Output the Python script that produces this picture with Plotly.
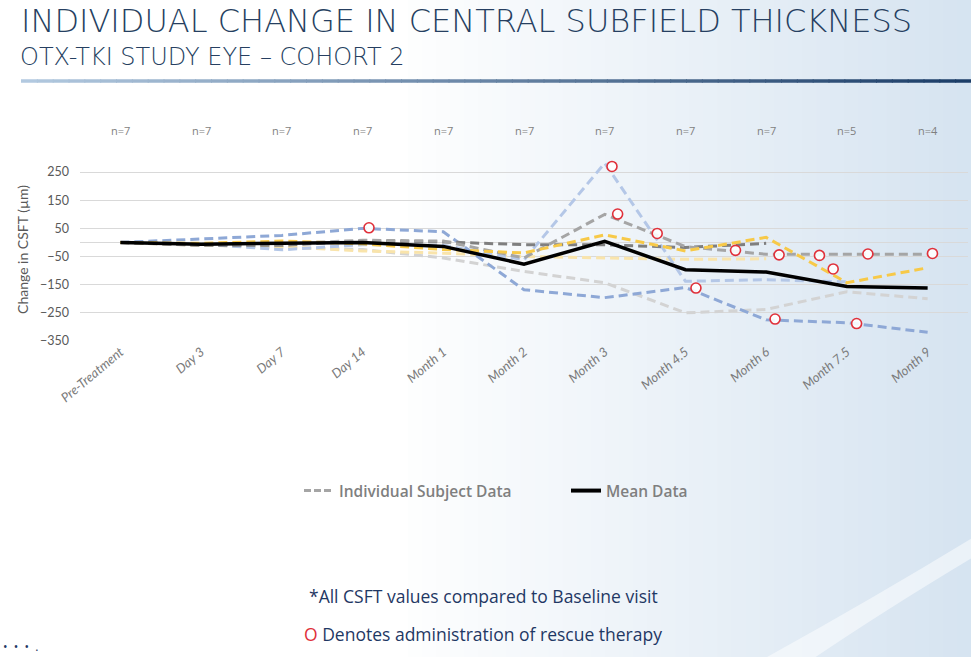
import plotly.graph_objects as go

# ---------------- data ----------------
categories = ["Pre-Treatment", "Day 3", "Day 7", "Day 14", "Month 1", "Month 2",
              "Month 3", "Month 4.5", "Month 6", "Month 7.5", "Month 9"]
n_labels = ["n=7", "n=7", "n=7", "n=7", "n=7", "n=7", "n=7", "n=7", "n=7", "n=5", "n=4"]

subj_medium_blue = [0, 12, 25, 50, 38, -168, -196, -160, -275, -285, -319]
subj_pale_blue = [0, -5, -26, -8, -10, -62, 282, -138, -132, -140, None]
subj_grey_a = [0, -8, -5, 8, 5, -55, 100, -15, -42, -42, -42]
subj_grey_b = [0, -10, -10, 5, 2, -8, -8, -18, -3, None, None]
subj_yellow = [0, -3, 5, -5, -25, -37, 27, -30, 18, -143, -90]
subj_pale_yellow = [0, -10, -15, -30, -38, -50, -55, -60, -58, None, None]
subj_light_grey = [0, -10, -18, -25, -55, -103, -143, -250, -238, -175, -200]
mean_data = [0, -6, -3, 0, -14, -77, 4, -97, -105, -156, -162]

rescue_x = [3.08, 6.09, 6.16, 6.65, 7.13, 7.62, 8.11, 8.16, 8.66, 8.83, 9.12, 9.26, 10.06]
rescue_y = [52, 270, 101, 32, -162, -28, -272, -44, -46, -94, -288, -41, -39]

y_ticks = [-350, -250, -150, -50, 50, 150, 250]

# ---------------- figure ----------------
W, H = 971, 657
fig = go.Figure()
xs = list(range(len(categories)))

subjects = [
    (subj_light_grey, "#d3d3d3"),
    (subj_pale_yellow, "#f9e4ab"),
    (subj_pale_blue, "#b4c7e7"),
    (subj_medium_blue, "#8ea8d6"),
    (subj_grey_b, "#7f7f7f"),
    (subj_grey_a, "#a5a5a5"),
    (subj_yellow, "#f7c948"),
]
for vals, col in subjects:
    fig.add_trace(go.Scatter(x=xs, y=vals, mode="lines", showlegend=False,
                             line=dict(color=col, width=3, dash="9px,5px"),
                             hoverinfo="skip"))

fig.add_trace(go.Scatter(x=xs, y=mean_data, mode="lines", showlegend=False,
                         line=dict(color="#000000", width=3.5)))

fig.add_trace(go.Scatter(x=rescue_x, y=rescue_y, mode="markers", showlegend=False,
                         marker=dict(symbol="circle", size=10, color="rgba(255,255,255,0.9)",
                                     line=dict(color="#e0303a", width=1.6))))

# legend entries
fig.add_trace(go.Scatter(x=[None], y=[None], mode="lines", name="Individual Subject Data",
                         legend="legend",
                         line=dict(color="#a5a5a5", width=3, dash="7px,3px")))
fig.add_trace(go.Scatter(x=[None], y=[None], mode="lines", name="Mean Data",
                         legend="legend2",
                         line=dict(color="#000000", width=4)))

# geometry of plot area in pixels
px_l, px_r, px_t, px_b = 80, 968, 158, 341
dom_x = [px_l / W, px_r / W]
dom_y = [(H - px_b) / H, (H - px_t) / H]

def py(p):
    return (H - p) / H

def pxf(p):
    return p / W

shapes = []
# background gradient (right side light blue)
n_strips = 40
x0s = 0.42
for i in range(n_strips):
    f = (i + 1) / n_strips
    r = int(255 - (255 - 214) * f)
    g = int(255 - (255 - 228) * f)
    b = int(255 - (255 - 241) * f)
    shapes.append(dict(type="rect", xref="paper", yref="paper",
                       x0=x0s + (1 - x0s) * i / n_strips, x1=x0s + (1 - x0s) * (i + 1) / n_strips + 0.002,
                       y0=0, y1=1, fillcolor=f"rgb({r},{g},{b})", line=dict(width=0), layer="below"))
# white swoosh bottom right
shapes.append(dict(type="path", xref="paper", yref="paper",
                   path="M 0.79,0 Q 0.90,0.09 1.0,0.18 L 1.0,0.15 Q 0.91,0.07 0.84,0 Z",
                   fillcolor="rgba(255,255,255,0.5)", line=dict(width=0), layer="below"))
# gradient rule under title
n_seg = 60
xa, xb = 21, 971
for i in range(n_seg):
    f = i / (n_seg - 1)
    r = int(178 + (28 - 178) * f)
    g = int(201 + (62 - 201) * f)
    b = int(224 + (104 - 224) * f)
    shapes.append(dict(type="line", xref="paper", yref="paper",
                       x0=pxf(xa + (xb - xa) * i / n_seg), x1=pxf(xa + (xb - xa) * (i + 1) / n_seg + 1),
                       y0=py(81), y1=py(81), line=dict(color=f"rgb({r},{g},{b})", width=3.5)))

title_font = "DejaVu Sans"
annotations = [
    dict(text="INDIVIDUAL CHANGE IN CENTRAL SUBFIELD THICKNESS",
         x=pxf(19), y=1.0,
         xref="paper", yref="paper", xanchor="left", yanchor="top", showarrow=False,
         font=dict(family=title_font, size=32, color="#263f61", weight=300)),
    dict(text="OTX-TKI STUDY EYE – COHORT 2", x=pxf(18), y=py(57),
         xref="paper", yref="paper", xanchor="left", yanchor="middle", showarrow=False,
         font=dict(family=title_font, size=24, color="#263f61", weight=300)),
    dict(text="*All CSFT values compared to Baseline visit", x=pxf(483), y=py(596),
         xref="paper", yref="paper", xanchor="center", yanchor="middle", showarrow=False,
         font=dict(family="Open Sans, sans-serif", size=17.5, color="#1f3864")),
    dict(text="<span style='color:#e0303a'>O</span> Denotes administration of rescue therapy",
         x=pxf(483), y=py(634),
         xref="paper", yref="paper", xanchor="center", yanchor="middle", showarrow=False,
         font=dict(family="Open Sans, sans-serif", size=17.5, color="#1f3864")),
    dict(text="•  •  •  .", x=pxf(1), y=py(646), xref="paper", yref="paper", xanchor="left",
         yanchor="middle", showarrow=False, font=dict(size=12, color="#1f3864")),
]
for i, lab in enumerate(n_labels):
    annotations.append(dict(text=lab, x=i, xref="x", y=py(130), yref="paper", showarrow=False,
                            xanchor="center", yanchor="middle",
                            font=dict(family="Open Sans, sans-serif", size=11, color="#7f7f7f")))

legend_font = dict(family="Open Sans, sans-serif", size=15.5, color="#7f7f7f", weight=600)
fig.update_layout(
    width=W, height=H,
    margin=dict(l=0, r=0, t=0, b=0, autoexpand=False),
    paper_bgcolor="white", plot_bgcolor="rgba(0,0,0,0)",
    shapes=shapes, annotations=annotations,
    showlegend=True,
    legend=dict(orientation="h", x=pxf(299), xanchor="left", y=py(491), yanchor="middle",
                bgcolor="rgba(0,0,0,0)", font=legend_font),
    legend2=dict(orientation="h", x=pxf(566), xanchor="left", y=py(491), yanchor="middle",
                 bgcolor="rgba(0,0,0,0)", font=legend_font),
    xaxis=dict(domain=dom_x, range=[-0.5, 10.5], tickvals=xs, ticktext=categories,
               tickangle=-40, showgrid=False, zeroline=False, showline=False, ticks="",
               automargin=False,
               tickfont=dict(family="Lato, sans-serif", size=13, color="#7a7a7a", style="italic")),
    yaxis=dict(domain=dom_y, range=[-350, 300], tickvals=y_ticks, showgrid=True,
               gridcolor="#d9d9d9", gridwidth=1, zeroline=True, zerolinecolor="#d9d9d9",
               zerolinewidth=1, showline=False, ticks="", ticklabelstandoff=10,
               automargin=False,
               tickfont=dict(family="Lato, sans-serif", size=12.5, color="#595959"),
               title=dict(text="Change in CSFT (µm)", standoff=8,
                          font=dict(family="Lato, sans-serif", size=14, color="#595959"))),
)

fig.write_html("out.html", config={"displayModeBar": False},
               post_script="document.body.style.margin='0px';")
